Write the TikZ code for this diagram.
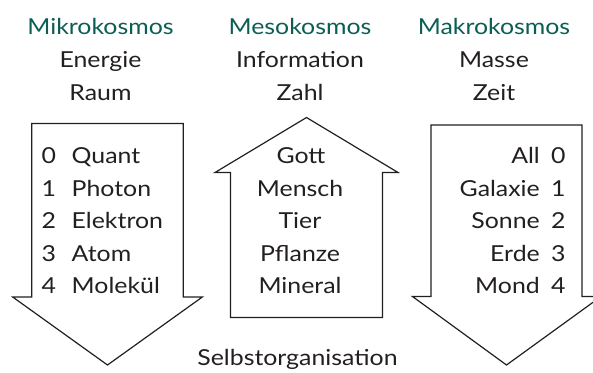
\documentclass[tikz,border=0pt]{standalone}
\usepackage{fontspec}
\setmainfont[FakeStretch=1.13]{Lato}
\definecolor{kosmos}{RGB}{12,94,84}
\definecolor{schrift}{RGB}{35,31,32}

\begin{document}
\begin{tikzpicture}[x=1pt,y=-1pt]
		\useasboundingbox (0,0) rectangle (593,372);
		\clip (0,0) rectangle (593,372);
		\begin{scope}[every node/.style={anchor=base, inner sep=0pt, text=schrift, font=\fontsize{22}{26}\selectfont}]
			% Spaltenkoepfe
			\node[text=kosmos] (mikro) at (100.5,34) {Mikrokosmos};
			\node (energie) at (100.5,67) {Energie};
			\node (raum) at (100.5,100) {Raum};
			\node[text=kosmos] (meso) at (300,34) {Mesokosmos};
			\node (information) at (300,67) {Information};
			\node (zahl) at (300,100) {Zahl};
			\node[text=kosmos] (makro) at (494,34) {Makrokosmos};
			\node (masse) at (494,67) {Masse};
			\node (zeit) at (494,100) {Zeit};
			% Mitte
			\node (gott) at (301,163.5) {Gott};
			\node (mensch) at (300,196) {Mensch};
			\node (tier) at (300,228.5) {Tier};
			\node (pflanze) at (300,261) {Pflanze};
			\node (mineral) at (300,293.5) {Mineral};
			\node (selbst) at (297.5,365) {Selbstorganisation};
		\end{scope}
		\begin{scope}[every node/.style={anchor=base west, inner sep=0pt, text=schrift, font=\fontsize{22}{26}\selectfont}]
			\node (n0) at (41.5,163.5) {0};
			\node (n1) at (41.5,196) {1};
			\node (n2) at (41.5,228.5) {2};
			\node (n3) at (41.5,261) {3};
			\node (n4) at (41.5,293.5) {4};
			\node (quant) at (71.5,163.5) {Quant};
			\node (photon) at (71.5,196) {Photon};
			\node (elektron) at (71.5,228.5) {Elektron};
			\node (atom) at (71.5,261) {Atom};
			\node (molekuel) at (71.5,293.5) {Molekül};
			\node (m0) at (551,163.5) {0};
			\node (m1) at (551,196) {1};
			\node (m2) at (551,228.5) {2};
			\node (m3) at (551,261) {3};
			\node (m4) at (551,293.5) {4};
		\end{scope}
		\begin{scope}[every node/.style={anchor=base east, inner sep=0pt, text=schrift, font=\fontsize{22}{26}\selectfont}]
			\node (all) at (540,163.5) {All};
			\node (galaxie) at (540,196) {Galaxie};
			\node (sonne) at (540,228.5) {Sonne};
			\node (erde) at (540,261) {Erde};
			\node (mond) at (540,293.5) {Mond};
		\end{scope}
		\begin{scope}[line width=1.2pt, draw=schrift, line join=miter]
			% Pfeile
			\draw (31.7,123.5) -- (183.3,123.5) -- (183.3,297) -- (202.3,297)
				-- (107.5,365) -- (12.7,297) -- (31.7,297) -- cycle;
			\draw (230.5,317.5) -- (230.5,172.5) -- (215,172.5) -- (306.5,117.5)
				-- (398,172.5) -- (382.5,172.5) -- (382.5,317.5) -- cycle;
			\draw (431,125) -- (582,125) -- (582,296.5) -- (601,296.5)
				-- (506.5,365) -- (412.5,296.5) -- (431,296.5) -- cycle;
		\end{scope}
	\end{tikzpicture}
\end{document}
